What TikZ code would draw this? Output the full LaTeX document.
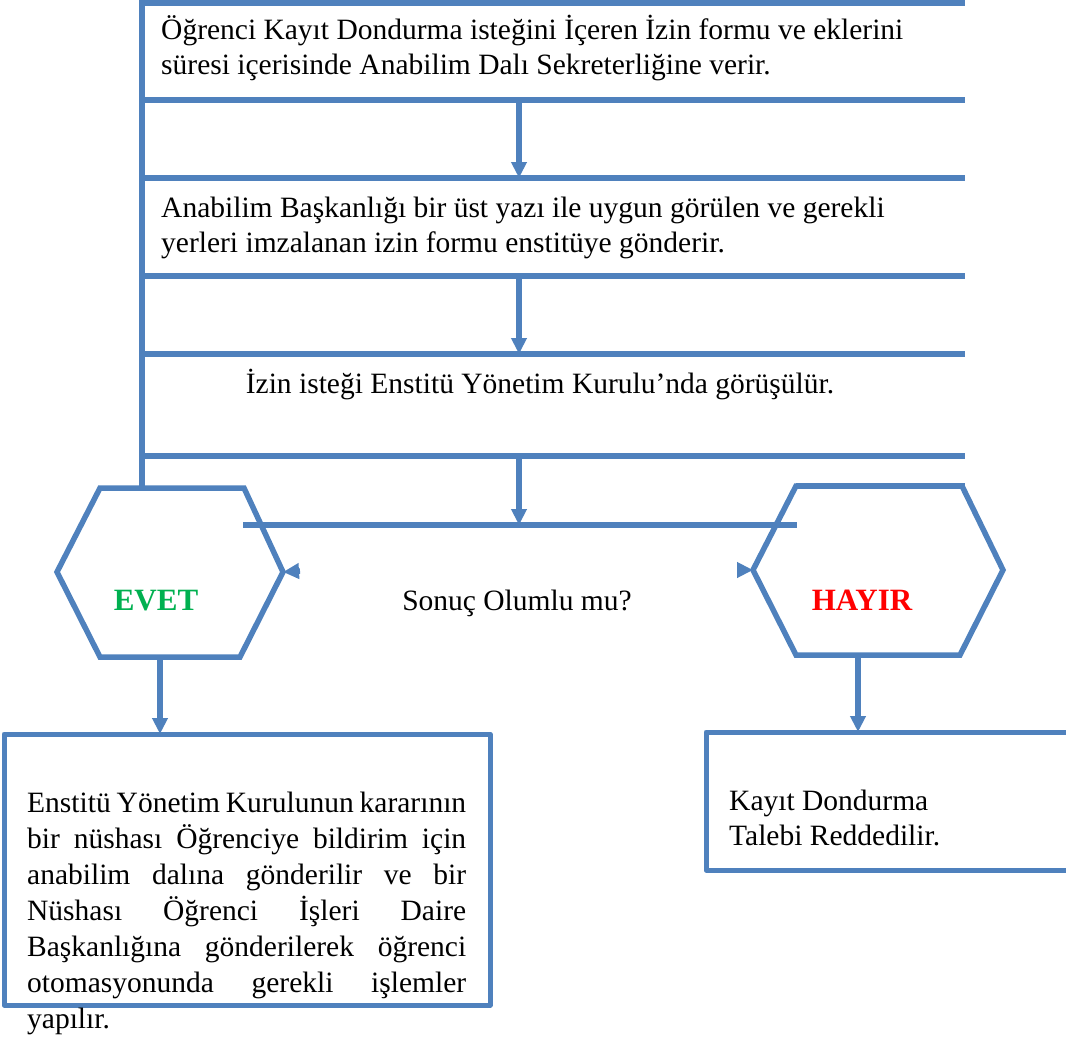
\documentclass[tikz,border=0pt]{standalone}
\usepackage{fontspec}
\setmainfont{Liberation Serif}
\usetikzlibrary{arrows.meta}
\definecolor{flowblue}{HTML}{4F81BD}
\definecolor{yesgreen}{HTML}{00B050}
\definecolor{nored}{HTML}{FF0000}

\begin{document}
\begin{tikzpicture}[x=1pt,y=-1pt,
  rule/.style={draw=flowblue,line width=5.5pt},
  flow/.style={rule,-{Triangle[length=16pt,width=15pt]}},
  body/.style={font=\fontsize{29.5}{35}\selectfont,inner sep=0pt,anchor=base west,align=left},
  answer/.style={font=\fontsize{31}{35}\selectfont\bfseries,inner sep=0pt,anchor=base},
]
\useasboundingbox (0,0) rectangle (1066,1044);

% stacked step bands, open on the right
\draw[rule] (142,0) -- (142,488);
\foreach \yy in {3,100,178,276,354,456}
  \draw[rule] (142,\yy) -- (965,\yy);

% arrow anchors on the band lines
\coordinate (s1b) at (519,100);
\coordinate (s2t) at (519,178);
\coordinate (s2b) at (519,276);
\coordinate (s3t) at (519,354);
\coordinate (s3b) at (519,456);
\coordinate (qt)  at (519,525);

% decision bar
\coordinate (barL) at (243,525);
\coordinate (barR) at (797,525);
\draw[rule] (barL) -- (barR);

% step texts (anchored at the baseline of their last line)
\node[body] (t1) at (161,74) {Öğrenci Kayıt Dondurma isteğini İçeren İzin formu ve eklerini\\süresi içerisinde Anabilim Dalı Sekreterliğine verir.};
\node[body] (t2) at (161,252) {Anabilim Başkanlığı bir üst yazı ile uygun görülen ve gerekli\\yerleri imzalanan izin formu enstitüye gönderir.};
\node[body,anchor=base] (t3) at (540,393) {İzin isteği Enstitü Yönetim Kurulu’nda görüşülür.};
\node[body,anchor=base] (q) at (517,610) {Sonuç Olumlu mu?};

\draw[flow] (s1b) -- (s2t);
\draw[flow] (s2b) -- (s3t);
\draw[flow] (s3b) -- (qt);

% EVET hexagon
\coordinate (eTL) at (100,488);
\coordinate (eTR) at (244,488);
\coordinate (eR)  at (283,572);
\coordinate (eBR) at (240,657);
\coordinate (eBL) at (100,657);
\coordinate (eL)  at (57,572);
\draw[rule,line join=miter] (eTL) -- (eTR) -- (eR) -- (eBR) -- (eBL) -- (eL) -- cycle;
\node[answer,text=yesgreen] (yes) at (156,610) {EVET};
\coordinate (eBot) at (160,657);

% HAYIR hexagon
\coordinate (hTL) at (796,486);
\coordinate (hTR) at (962,486);
\coordinate (hR)  at (1003,570);
\coordinate (hBR) at (960,655);
\coordinate (hBL) at (796,655);
\coordinate (hL)  at (753,570);
\draw[rule,line join=miter] (hTL) -- (hTR) -- (hR) -- (hBR) -- (hBL) -- (hL) -- cycle;
\draw[rule] (hTL) -- (965,486);
\node[answer,text=nored] (no) at (862,610) {HAYIR};
\coordinate (hBot) at (858,655);

% short pointers onto the hexagon corners
\coordinate (pL) at (300,571);
\coordinate (pR) at (737,570);
\draw[flow] (pL) -- (eR);
\draw[flow] (pR) -- (hL);

% outcome boxes
\draw[draw=flowblue,line width=5pt,line join=round] (4,734) rectangle (490,1005);
\coordinate (yBox) at (160,734);
\draw[draw=flowblue,line width=5pt,line join=round] (1070,732) -- (706,732) -- (706,870) -- (1070,870);
\coordinate (nBox) at (858,732);

\draw[flow] (eBot) -- (yBox);
\draw[flow] (hBot) -- (nBox);

\node[body] (tyes) at (27,1028) {%
  \makebox[439pt][s]{Enstitü Yönetim Kurulunun kararının}\\[1pt]
  \makebox[439pt][s]{bir nüshası Öğrenciye bildirim için}\\[1pt]
  \makebox[439pt][s]{anabilim dalına gönderilir ve bir}\\[1pt]
  \makebox[439pt][s]{Nüshası Öğrenci İşleri Daire}\\[1pt]
  \makebox[439pt][s]{Başkanlığına gönderilerek öğrenci}\\[1pt]
  \makebox[439pt][s]{otomasyonunda gerekli işlemler}\\[1pt]
  yapılır.};
\node[body] (tno) at (729,845) {Kayıt Dondurma\\Talebi Reddedilir.};
\end{tikzpicture}
\end{document}
